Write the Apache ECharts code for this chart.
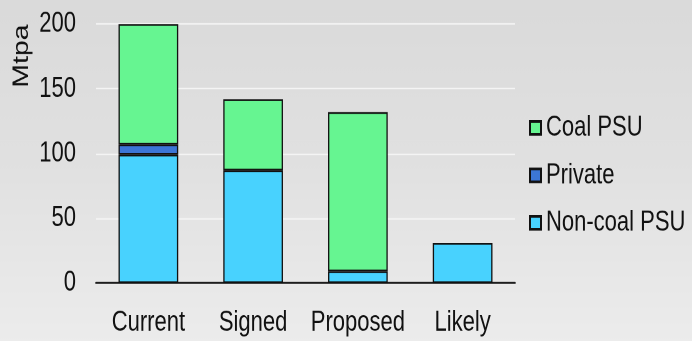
<!DOCTYPE html>
<html>
<head>
<meta charset="utf-8">
<script src="https://cdn.jsdelivr.net/npm/echarts@6/dist/echarts.min.js"></script>
<style>
  html, body { margin: 0; padding: 0; background: #e6e6e6; }
  #frame { width: 692px; height: 341px; overflow: hidden; }
  /* the chart is laid out short and stretched tall, giving the tall, narrow lettering */
  #chart { width: 692px; height: 264px; transform: scaleY(1.2917); transform-origin: 0 0; }
</style>
</head>
<body>
<div id="frame"><div id="chart"></div></div>
<script>
// Mine capacity by status, in Mtpa
const categories = ['Current', 'Signed', 'Proposed', 'Likely'];
const nonCoalPsu = [99, 87, 9, 31];
const privateCap = [8, null, null, null];
const coalPsu = [93, 55, 123, null];
const yTicks = { min: 0, max: 200, interval: 50 };

const font = "'Liberation Sans', Arial, sans-serif";
const txt = '#111';
const edge = { borderColor: '#111', borderWidth: 1.3 };

const chart = echarts.init(document.getElementById('chart'), null, { devicePixelRatio: 2 });
chart.setOption({
  backgroundColor: {
    type: 'linear', x: 0, y: 0, x2: 0, y2: 1,
    colorStops: [
      { offset: 0, color: '#dadada' },
      { offset: 0.5, color: '#e1e1e1' },
      { offset: 1, color: '#ececec' }
    ]
  },
  animation: false,
  grid: { left: 96, right: 177, top: 18.6, bottom: 44.9 },
  legend: {
    orient: 'vertical',
    left: 529,
    top: 88,
    padding: 0,
    icon: 'rect',
    itemWidth: 11,
    itemHeight: 10,
    itemGap: 14.75,
    data: ['Coal PSU', 'Private', 'Non-coal PSU'],
    textStyle: { fontFamily: font, fontSize: 22, color: txt, lineHeight: 22 }
  },
  xAxis: {
    type: 'category',
    data: categories,
    axisLine: { lineStyle: { color: '#111', width: 1.6 } },
    axisTick: { show: false },
    axisLabel: { fontFamily: font, fontSize: 22, color: txt, margin: 20, interval: 0 }
  },
  yAxis: {
    type: 'value',
    min: yTicks.min, max: yTicks.max, interval: yTicks.interval,
    axisLine: { show: false },
    axisTick: { show: false },
    splitLine: { lineStyle: { color: '#f4f4f4', width: 1.2 } },
    axisLabel: { fontFamily: font, fontSize: 22, color: txt, margin: 20 }
  },
  graphic: [{
    type: 'text',
    x: 22, y: 43.4,
    rotation: Math.PI / 2,
    style: {
      text: 'Mtpa',
      fontFamily: font,
      fontSize: 22,
      fill: txt,
      align: 'center',
      verticalAlign: 'middle'
    }
  }],
  series: [
    { name: 'Non-coal PSU', type: 'bar', stack: 'cap', data: nonCoalPsu, barWidth: '57%',
      itemStyle: Object.assign({ color: '#48d2fe' }, edge) },
    { name: 'Private', type: 'bar', stack: 'cap', data: privateCap,
      itemStyle: Object.assign({ color: '#3c76d6' }, edge) },
    { name: 'Coal PSU', type: 'bar', stack: 'cap', data: coalPsu,
      itemStyle: Object.assign({ color: '#66f591' }, edge) }
  ]
});
</script>
</body>
</html>
